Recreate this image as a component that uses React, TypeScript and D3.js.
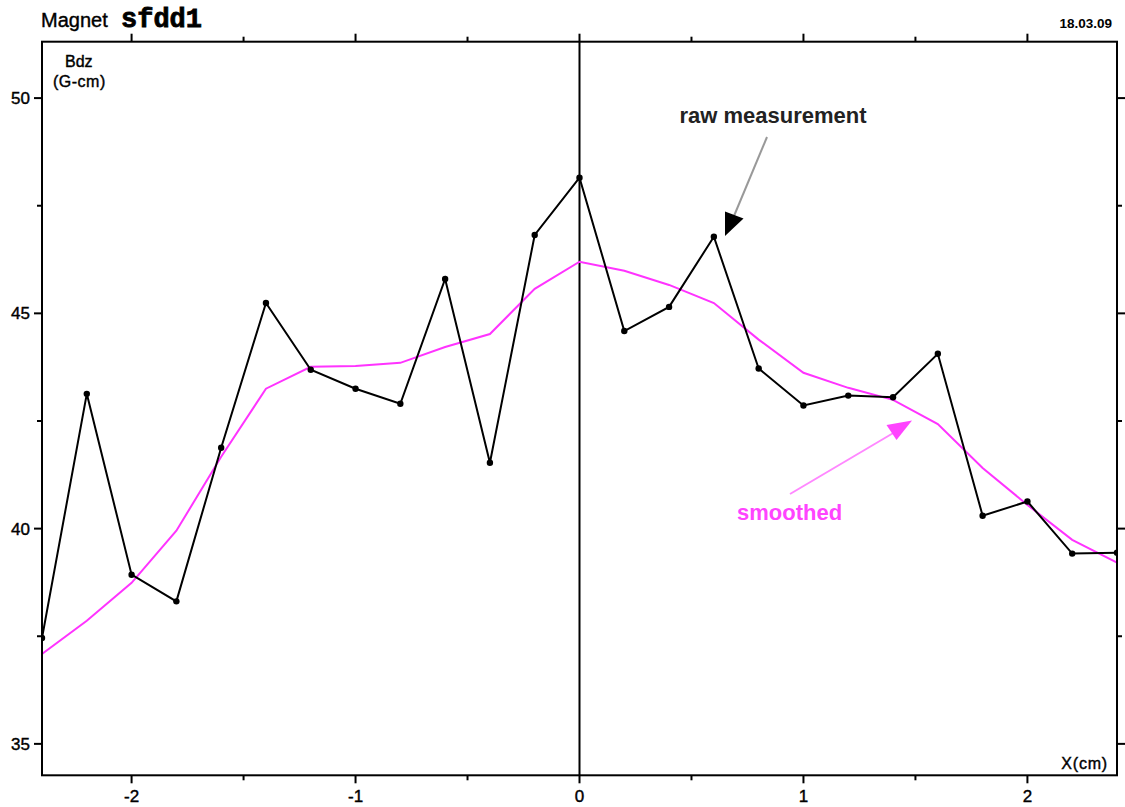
import React from "react";
import * as d3 from "d3";

const xPositions = [-2.4, -2.2, -2.0, -1.8, -1.6, -1.4, -1.2, -1.0, -0.8, -0.6, -0.4, -0.2, 0, 0.2, 0.4, 0.6, 0.8, 1.0, 1.2, 1.4, 1.6, 1.8, 2.0, 2.2, 2.4];
const rawValues = [37.46, 43.13, 38.93, 38.31, 41.88, 45.24, 43.69, 43.25, 42.9, 45.8, 41.53, 46.82, 48.15, 44.59, 45.15, 46.78, 43.72, 42.86, 43.09, 43.05, 44.06, 40.3, 40.63, 39.42, 39.44];
const smoothedValues = [37.09, 37.86, 38.74, 39.95, 41.67, 43.25, 43.76, 43.78, 43.85, 44.22, 44.52, 45.57, 46.2, 45.99, 45.66, 45.24, 44.39, 43.62, 43.27, 42.99, 42.43, 41.41, 40.55, 39.74, 39.21];
const xMajorTicks = [-2, -1, 0, 1, 2];
const xMinorTicks = [-1.5, -0.5, 0.5, 1.5];
const yMajorTicks = [35, 40, 45, 50];
const yMinorTicks = [37.5, 42.5, 47.5];

const W = 1125, H = 807;
const L = 42, R = 1117, T = 41.7, B = 775.3;

export default function App() {
  const x = d3.scaleLinear().domain([-2.4, 2.4]).range([L, R]);
  const y = d3.scaleLinear().domain([34.27, 51.31]).range([B, T]);
  const rawPts: [number, number][] = xPositions.map((v, i) => [x(v), y(rawValues[i])]);
  const smPts: [number, number][] = xPositions.map((v, i) => [x(v), y(smoothedValues[i])]);
  const line = d3.line();
  const sans = "'Liberation Sans', Arial, sans-serif";
  const heavy = { stroke: "#000", strokeWidth: 0.4 };

  return (
    <svg width={W} height={H} style={{ position: "absolute", left: 0, top: 0, background: "#fff" }}>
      <rect x={0} y={0} width={W} height={H} fill="#fff" />
      <defs>
        <clipPath id="plot">
          <rect x={L} y={T} width={R - L} height={B - T} />
        </clipPath>
      </defs>
      {/* title */}
      <text x={41} y={27} fontFamily={sans} fontSize={20} fill="#000" {...heavy}>Magnet</text>
      <text x={121} y={27} fontFamily="'Liberation Mono', monospace" fontWeight="bold" fontSize={27} fill="#000" stroke="#000" strokeWidth={0.8}>sfdd1</text>
      <text x={1112} y={28} textAnchor="end" fontFamily={sans} fontWeight="bold" fontSize={13.5} fill="#000">18.03.09</text>

      {/* axis titles */}
      <text x={65} y={67} fontFamily={sans} fontSize={16} fill="#000" {...heavy}>Bdz</text>
      <text x={53} y={87} fontFamily={sans} fontSize={16} fill="#000" letterSpacing={0.5} {...heavy}>(G-cm)</text>
      <text x={1108} y={769} textAnchor="end" fontFamily={sans} fontSize={16} fill="#000" letterSpacing={0.8} {...heavy}>X(cm)</text>

      {/* ticks */}
      {xMajorTicks.map((t) => (
        <g key={"xM" + t}>
          <line x1={x(t)} x2={x(t)} y1={B} y2={B + 8} stroke="#000" strokeWidth={2} />
          <line x1={x(t)} x2={x(t)} y1={T} y2={T - 8} stroke="#000" strokeWidth={2} />
          <text x={x(t)} y={802} textAnchor="middle" fontFamily={sans} fontSize={17} fill="#000" {...heavy}>{t < 0 ? "-" + Math.abs(t) : String(t)}</text>
        </g>
      ))}
      {xMinorTicks.map((t) => (
        <g key={"xm" + t}>
          <line x1={x(t)} x2={x(t)} y1={B} y2={B + 5} stroke="#000" strokeWidth={2} />
          <line x1={x(t)} x2={x(t)} y1={T} y2={T - 5} stroke="#000" strokeWidth={2} />
        </g>
      ))}
      {yMajorTicks.map((t) => (
        <g key={"yM" + t}>
          <line x1={L} x2={L - 8} y1={y(t)} y2={y(t)} stroke="#000" strokeWidth={2} />
          <line x1={R} x2={R + 8} y1={y(t)} y2={y(t)} stroke="#000" strokeWidth={2} />
          <text x={30} y={y(t) + 6} textAnchor="end" fontFamily={sans} fontSize={17} fill="#000" {...heavy}>{t}</text>
        </g>
      ))}
      {yMinorTicks.map((t) => (
        <g key={"ym" + t}>
          <line x1={L} x2={L - 5} y1={y(t)} y2={y(t)} stroke="#000" strokeWidth={2} />
          <line x1={R} x2={R + 5} y1={y(t)} y2={y(t)} stroke="#000" strokeWidth={2} />
        </g>
      ))}

      {/* zero line */}
      <line x1={x(0)} x2={x(0)} y1={T} y2={B} stroke="#000" strokeWidth={2} />

      <g clipPath="url(#plot)">
        <path d={line(smPts) || ""} fill="none" stroke="#ff33ff" strokeWidth={2} />
        <path d={line(rawPts) || ""} fill="none" stroke="#000" strokeWidth={2} />
        {rawPts.map((p, i) => (
          <circle key={i} cx={p[0]} cy={p[1]} r={3.2} fill="#000" />
        ))}
      </g>

      {/* frame */}
      <rect x={L} y={T} width={R - L} height={B - T} fill="none" stroke="#000" strokeWidth={2} />

      {/* annotations */}
      <text x={773} y={123} textAnchor="middle" fontFamily={sans} fontWeight="bold" fontSize={22} fill="#222">raw measurement</text>
      <line x1={767} y1={137} x2={734} y2={216} stroke="#999" strokeWidth={2} />
      <polygon points="725,211.5 743.5,218.5 725,236" fill="#000" />

      <text x={737} y={520} fontFamily={sans} fontWeight="bold" fontSize={22} fill="#ff44ff">smoothed</text>
      <line x1={790} y1={494} x2={895} y2={432} stroke="#ff88ff" strokeWidth={2} />
      <polygon points="886.5,425 912,420.5 896.5,440" fill="#ff44ff" />
    </svg>
  );
}
